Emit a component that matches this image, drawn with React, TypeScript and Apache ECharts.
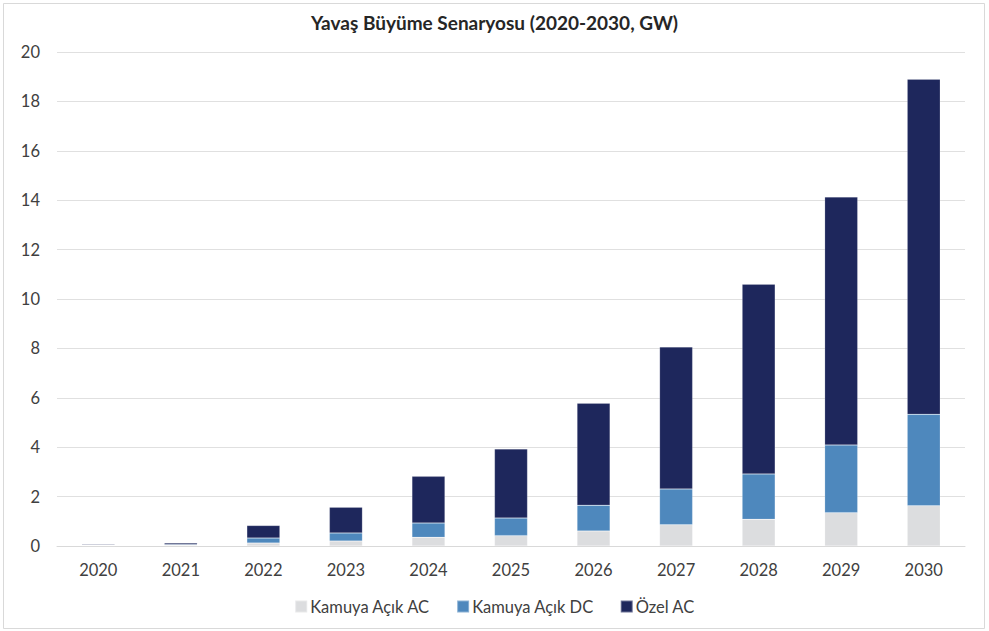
import React, { useEffect, useRef } from "react";
import * as echarts from "echarts";

const years = ["2020", "2021", "2022", "2023", "2024", "2025", "2026", "2027", "2028", "2029", "2030"];
const kamuyaAC = [0.015, 0.03, 0.12, 0.2, 0.35, 0.42, 0.61, 0.86, 1.08, 1.35, 1.63];
const kamuyaDC = [0.015, 0.03, 0.2, 0.33, 0.58, 0.71, 1.04, 1.45, 1.84, 2.74, 3.7];
const ozelAC = [0.03, 0.06, 0.51, 1.04, 1.89, 2.8, 4.13, 5.75, 7.68, 10.04, 13.57];
const seriesNames = ["Kamuya Açık AC", "Kamuya Açık DC", "Özel AC"];
const colors = ["#DCDDDF", "#4E88BD", "#1E275C"];
const title = "Yavaş Büyüme Senaryosu (2020-2030, GW)";

export default function App() {
  const ref = useRef<HTMLDivElement>(null);
  useEffect(() => {
    if (!ref.current) return;
    const chart = echarts.init(ref.current, null, { renderer: "svg" });
    const font = "Lato, 'Open Sans', sans-serif";
    const data = [kamuyaAC, kamuyaDC, ozelAC];
    chart.setOption({
      animation: false,
      backgroundColor: "#ffffff",
      textStyle: { fontFamily: font },
      title: {
        text: title,
        left: "center",
        top: 8,
        textStyle: { fontFamily: font, fontSize: 19, fontWeight: "bold", color: "#262626" },
      },
      legend: {
        bottom: 11,
        left: "center",
        itemWidth: 12,
        itemHeight: 12,
        itemGap: 26,
        icon: "rect",
        textStyle: { fontFamily: font, fontSize: 16.5, color: "#404040", padding: [0, 0, 0, -2] },
        data: seriesNames,
      },
      grid: { left: 57, right: 24, top: 52, bottom: 85, containLabel: false },
      xAxis: {
        type: "category",
        data: years,
        axisLine: { lineStyle: { color: "#D9D9D9", width: 1 } },
        axisTick: { show: false },
        axisLabel: { color: "#404040", fontSize: 16.5, fontFamily: font, margin: 15 },
      },
      yAxis: {
        type: "value",
        min: 0,
        max: 20,
        interval: 2,
        axisLine: { show: false },
        axisTick: { show: false },
        axisLabel: { color: "#404040", fontSize: 16.5, fontFamily: font, margin: 17 },
        splitLine: { lineStyle: { color: "#E0E0E0", width: 1 } },
      },
      graphic: [
        {
          type: "rect",
          shape: { x: 3.5, y: 3.5, width: 981, height: 625 },
          style: { fill: "none", stroke: "#D9D9D9", lineWidth: 1 },
          silent: true,
        },
      ],
      series: seriesNames.map((name, i) => ({
        name,
        type: "bar",
        stack: "total",
        data: data[i],
        barWidth: "40%",
        barMinHeight: 0,
        itemStyle: { color: colors[i], borderColor: "rgba(255,255,255,0.35)", borderWidth: 0.5 },
      })),
    });
    return () => chart.dispose();
  }, []);
  return <div ref={ref} style={{ position: "fixed", left: 0, top: 0, width: 989, height: 631 }} />;
}
